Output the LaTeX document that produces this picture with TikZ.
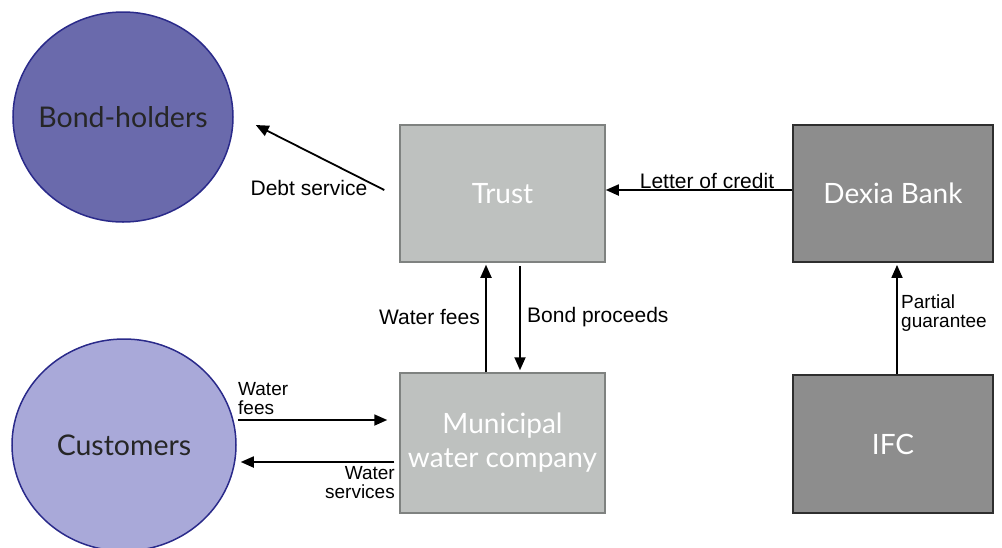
\documentclass[tikz,border=0pt]{standalone}
\usepackage{fontspec}
\setmainfont{Liberation Sans}
\newfontfamily\boxfont{Lato}
\usetikzlibrary{arrows.meta,shapes.geometric}
\definecolor{bondfill}{HTML}{6A6AAC}
\definecolor{custfill}{HTML}{A9A9D9}
\definecolor{circdraw}{HTML}{2A2A8A}
\definecolor{trustfill}{HTML}{BEC1BF}
\definecolor{trustdraw}{HTML}{7F8280}
\definecolor{darkfill}{HTML}{8D8D8D}
\definecolor{darkdraw}{HTML}{2E2E2E}
\tikzset{
  circ/.style={ellipse, draw=circdraw, line width=1.5pt, inner sep=0pt},
  circtext/.style={inner sep=0pt, text=black!85, font=\boxfont\fontsize{28.5}{30}\selectfont},
  lbox/.style={rectangle, fill=trustfill, draw=trustdraw, line width=1.5pt, inner sep=0pt,
    text=white, align=center, font=\boxfont\fontsize{28}{34}\selectfont},
  dbox/.style={rectangle, fill=darkfill, draw=darkdraw, line width=1.8pt, inner sep=0pt,
    text=white, align=center, font=\boxfont\fontsize{28}{34}\selectfont},
  arr/.style={line width=1.8pt, -{Triangle[length=13pt,width=11pt]}},
  lbl/.style={inner sep=0pt, font=\fontsize{21}{21}\selectfont},
  lbl2/.style={inner sep=0pt, align=left, font=\fontsize{19}{19}\selectfont},
}
\begin{document}
\begin{tikzpicture}[x=1pt,y=-1pt]
\useasboundingbox (0,0) rectangle (1002,547);
\node[circ, fill=bondfill, minimum width=220pt, minimum height=210pt] (bond) at (123,117) {};
\node[circtext] (bondt) at (bond.center) {Bond-holders};
\node[circ, fill=custfill, minimum width=224pt, minimum height=212pt] (cust) at (124,445) {};
\node[circtext] (custt) at (cust.center) {Customers};
\node[lbox, minimum width=205pt, minimum height=137pt] (trust) at (502.5,193.5) {Trust};
\node[lbox, minimum width=205pt, minimum height=140pt] (muni) at (502.5,443) {Municipal\\water company};
\node[dbox, minimum width=200pt, minimum height=137pt] (dexia) at (893,193.5) {Dexia Bank};
\node[dbox, minimum width=200pt, minimum height=138pt] (ifc) at (893,444) {IFC};

\draw[arr] ([shift={(-15,-3.5)}]trust.west) -- ([shift={(22,8)}]bond.east);
\node[lbl] (ldebt) at (309,188) {Debt service};

\draw[arr] ([shift={(0,-3.5)}]dexia.west) -- ([shift={(0,-3.5)}]trust.east);
\node[lbl] (lloc) at (707,181) {Letter of credit};

\draw[arr] ([shift={(-16.5,0)}]muni.north) -- ([shift={(-16.5,2)}]trust.south);
\node[lbl, anchor=east] (lwf) at (480,317) {Water fees};
\draw[arr] ([shift={(17.5,3)}]trust.south) -- ([shift={(17.5,-2)}]muni.north);
\node[lbl, anchor=west] (lbp) at (527,317) {Bond proceeds};

\draw[arr] ([shift={(1,-25)}]cust.east) -- ([shift={(-12,-23)}]muni.west);
\node[lbl2, anchor=south west] (lwf2) at (238,415) {Water\\fees};
\draw[arr] ([shift={(-5,19)}]muni.west) -- ([shift={(4,17)}]cust.east);
\node[lbl2, anchor=north east, align=right] (lws) at (395,466) {Water\\services};

\draw[arr] ([shift={(4,0)}]ifc.north) -- ([shift={(4,2)}]dexia.south);
\node[lbl2, anchor=west] (lpg) at (901,313) {Partial\\guarantee};
\end{tikzpicture}
\end{document}
